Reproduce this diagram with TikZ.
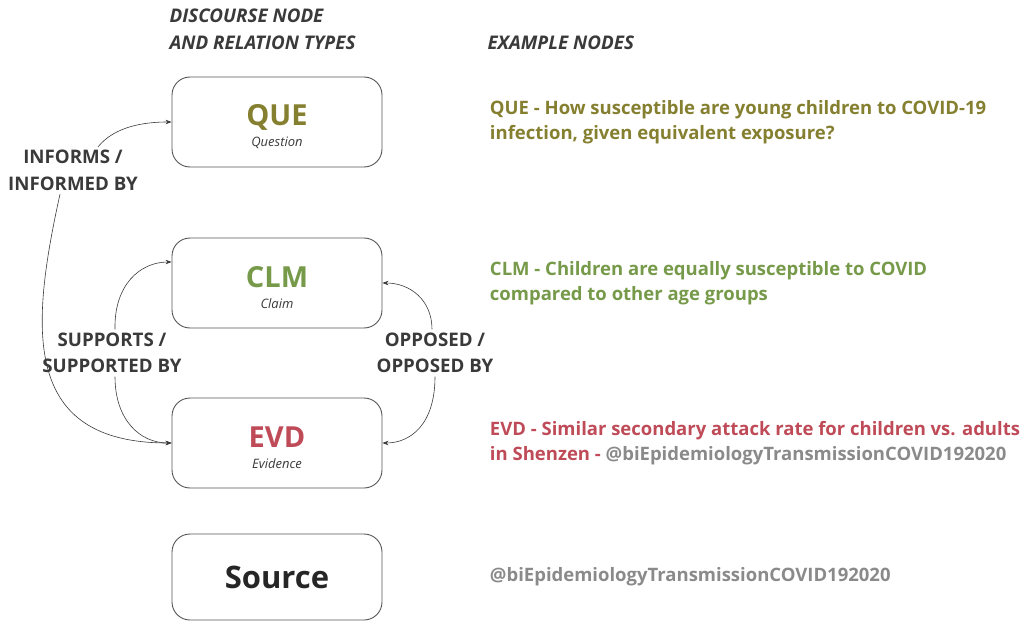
\documentclass[tikz,border=0pt]{standalone}
\usepackage{fontspec}
\setmainfont{Open Sans}
\usetikzlibrary{positioning, arrows.meta}

\definecolor{quecol}{HTML}{857F30}
\definecolor{clmcol}{HTML}{769A4A}
\definecolor{evdcol}{HTML}{BF4B58}
\definecolor{srccol}{HTML}{8A8A8A}
\definecolor{labgray}{HTML}{3A3A3A}
\definecolor{boxgray}{HTML}{555555}

% title and subtitle of a node type box
\newcommand{\typetitle}[2]{{\fontsize{29}{31}\selectfont\bfseries\color{#1}\rule{0pt}{31pt}#2}}
\newcommand{\typesub}[1]{{\fontsize{13}{14}\selectfont\itshape\color{labgray}#1}}

\begin{document}
\begin{tikzpicture}[
    x=1pt, y=-1pt,
    typebox/.style={draw=boxgray, line width=0.9pt, rounded corners=18pt, minimum width=210pt, minimum height=90pt, align=center, font=\fontsize{13}{21}\selectfont},
    reltext/.style={font=\fontsize{18.7}{26.5}\selectfont\bfseries, text=labgray, align=center},
    exampletext/.style={align=left, font=\fontsize{18.5}{25.5}\selectfont\bfseries},
    header/.style={anchor=west, align=left, font=\fontsize{18.8}{27}\selectfont\bfseries\itshape, text=labgray},
    rel/.style={-{Stealth[length=6pt,width=4.5pt]}, draw=labgray, line width=0.6pt}
]
\useasboundingbox (0,0) rectangle (1026,623);

% Headers
\node[header] (hdtypes) at (166,29.5) {DISCOURSE NODE\\AND RELATION TYPES};
\node[header] (hdexamples) at (484,43) {EXAMPLE NODES};

% Discourse node types
\node[typebox] (que) at (277,122) {\typetitle{quecol}{QUE}\\\typesub{Question}};
\node[typebox] (clm) at (277,283) {\typetitle{clmcol}{CLM}\\\typesub{Claim}};
\node[typebox] (evd) at (277,443) {\typetitle{evdcol}{EVD}\\\typesub{Evidence}};
\node[typebox, minimum height=86pt] (src) at (277,577) {{\fontsize{31}{33}\selectfont\bfseries\color{black!85}Source}};

% Example nodes
\node[exampletext, text=quecol, right=104pt of que] (queex) {QUE - How susceptible are young children to COVID-19\\infection, given equivalent exposure?};
\node[exampletext, text=clmcol, right=104pt of clm] (clmex) {CLM - Children are equally susceptible to COVID\\compared to other age groups};
\node[exampletext, text=evdcol, right=104pt of evd] (evdex) {EVD - Similar secondary attack rate for children vs. adults\\in Shenzen - \textcolor{srccol}{@biEpidemiologyTransmissionCOVID192020}};
\node[exampletext, text=srccol, right=104pt of src] (srcex) {@biEpidemiologyTransmissionCOVID192020};

% Relation labels
\node[reltext] (informs) at (73,170.5) {INFORMS /\\INFORMED BY};
\node[reltext] (supports) at (112,353) {SUPPORTS /\\SUPPORTED BY};
\node[reltext] (opposed) at (435,353) {OPPOSED /\\OPPOSED BY};

% Relations
\draw[rel] ([xshift=25pt]informs.north) .. controls (115,126) and (145,122) .. (que.west);
\draw[rel] ([xshift=-13pt]informs.south) .. controls (30,330) and (22,443) .. (evd.west);
\draw[rel] ([xshift=3pt]supports.north) .. controls (114,285) and (140,262) .. ([yshift=21pt]clm.west);
\draw[rel] ([xshift=3pt]supports.south) .. controls (115,420) and (140,443) .. (evd.west);
\draw[rel] ([xshift=-3pt]opposed.north) .. controls (432,300) and (410,283) .. (clm.east);
\draw[rel] (opposed.south) .. controls (435,425) and (410,443) .. (evd.east);

\end{tikzpicture}
\end{document}
